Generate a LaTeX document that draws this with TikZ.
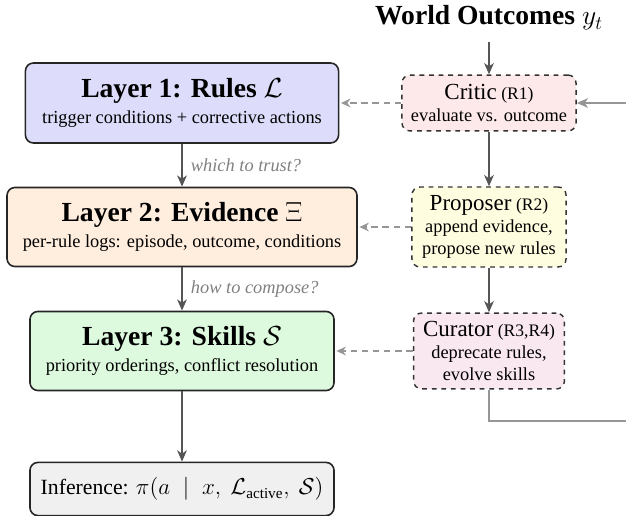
\documentclass[tikz,border=0pt]{standalone}
\usepackage{fontspec}
\setmainfont{Liberation Serif}
\usepackage{amsmath}
\usepackage{tikz}
\usetikzlibrary{arrows.meta}
\definecolor{rulesfill}{RGB}{221,221,251}
\definecolor{evidfill}{RGB}{255,238,222}
\definecolor{skillfill}{RGB}{222,250,222}
\definecolor{inferfill}{RGB}{240,240,240}
\definecolor{criticfill}{RGB}{253,232,234}
\definecolor{propfill}{RGB}{255,253,224}
\definecolor{curfill}{RGB}{250,232,240}
\definecolor{darkline}{RGB}{85,85,85}
\definecolor{lightline}{RGB}{150,150,150}
\newcommand{\midsize}{\fontsize{11.5}{13.8}\selectfont}
\newcommand{\tagsize}{\fontsize{11}{13}\selectfont}

\begin{document}
\begin{tikzpicture}[x=0.022cm,y=-0.022cm,
	layer/.style={draw=black!85,line width=1pt,rounded corners=5pt,align=center,inner sep=0pt,font=\midsize},
	agent/.style={draw=black!80,dashed,line width=0.9pt,rounded corners=5pt,align=center,inner sep=0pt,font=\midsize},
	flow/.style={draw=darkline,line width=1.2pt,-{Stealth[length=7pt,width=6pt,inset=2pt]}},
	hint/.style={draw=lightline,line width=0.9pt,dash pattern=on 4pt off 3pt,-{Stealth[length=6pt,width=5.5pt,inset=2pt]}},
	feedback/.style={draw=lightline,line width=1.2pt},
	asklabel/.style={right,xshift=4pt,inner sep=1pt,font=\midsize\itshape,text=black!50}]
		\useasboundingbox (0,0) rectangle (626,516);
		\coordinate (fbLow) at (626,421);
		\coordinate (fbHigh) at (626,103);
		\node (WO) at (489,18) {\LARGE\bfseries World Outcomes $y_t$};
		\node[layer,fill=rulesfill,minimum width=6.89cm,minimum height=1.76cm] (L1) at (182,103)
			{{\LARGE\bfseries Layer 1: Rules $\mathcal{L}$}\\[2pt]trigger conditions + corrective actions};
		\node[layer,fill=evidfill,minimum width=7.70cm,minimum height=1.74cm] (L2) at (182,227)
			{{\LARGE\bfseries Layer 2: Evidence $\Xi$}\\[2pt]per-rule logs: episode, outcome, conditions};
		\node[layer,fill=skillfill,minimum width=6.69cm,minimum height=1.74cm] (L3) at (182,351)
			{{\LARGE\bfseries Layer 3: Skills $\mathcal{S}$}\\[2pt]priority orderings, conflict resolution};
		\node[layer,fill=inferfill,minimum width=6.69cm,minimum height=1.17cm,font=\fontsize{13.6}{16}\selectfont] (Inf) at (182,489)
			{Inference: $\pi(a \;\mid\; x,\ \mathcal{L}_{\text{active}},\ \mathcal{S})$};
		\node[agent,fill=criticfill,minimum width=3.83cm,minimum height=1.23cm] (Critic) at (489,103)
			{{\Large Critic} {\tagsize(R1)}\\evaluate vs. outcome};
		\node[agent,fill=propfill,minimum width=3.39cm,minimum height=1.76cm] (Prop) at (489,227)
			{{\Large Proposer} {\tagsize(R2)}\\append evidence,\\propose new rules};
		\node[agent,fill=curfill,minimum width=3.32cm,minimum height=1.67cm] (Cur) at (489,351)
			{{\Large Curator} {\tagsize(R3,R4)}\\deprecate rules,\\evolve skills};

		\draw[flow,shorten <=4pt] (WO) -- (Critic);
		\draw[flow] (Critic) -- (Prop);
		\draw[flow] (Prop) -- (Cur);
		\draw[flow] (L1) -- (L2) node[midway,asklabel] {which to trust?};
		\draw[flow] (L2) -- (L3) node[midway,asklabel] {how to compose?};
		\draw[flow] (L3) -- (Inf);

		\draw[hint,shorten >=1pt] (Critic) -- (L1);
		\draw[hint,shorten >=1pt] (Prop) -- (L2);
		\draw[hint,shorten >=1pt] (Cur) -- (L3);

		\draw[feedback] (Cur) |- (fbLow);
		\draw[feedback,-{Stealth[length=7pt,width=6pt,inset=2pt]}] (fbHigh) -- (Critic);
	    \end{tikzpicture}
\end{document}
